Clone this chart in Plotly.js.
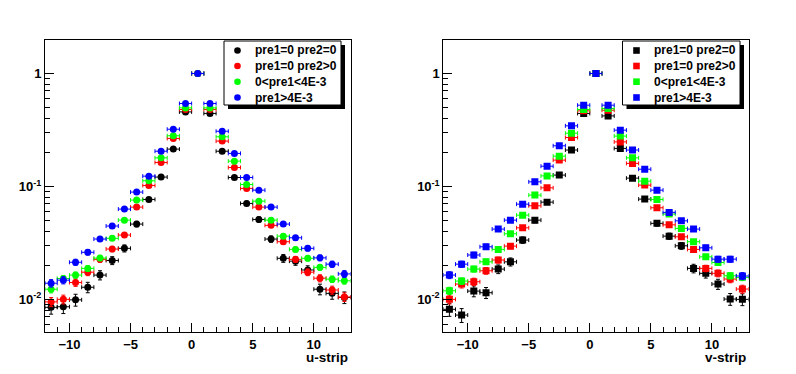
<!DOCTYPE html>
<html>
<head>
<meta charset="utf-8">
<script src="https://cdn.plot.ly/plotly-3.0.1.min.js"></script>
<style>
html,body{margin:0;padding:0;background:#fff;}
#chart{width:796px;height:374px;}
</style>
</head>
<body>
<div id="chart"></div>
<script>
// bin centres (strip number)
const strips = [-11.5,-10.5,-9.5,-8.5,-7.5,-6.5,-5.5,-4.5,-3.5,-2.5,-1.5,-0.5,0.5,1.5,2.5,3.5,4.5,5.5,6.5,7.5,8.5,9.5,10.5,11.5,12.5];

const seriesNames = ["pre1=0 pre2=0","pre1=0 pre2>0","0<pre1<4E-3","pre1>4E-3"];
const seriesColors = ["#000000","#ff0000","#00ff00","#0000ff"];

// u-strip panel
const uBlack = [0.0085,0.0086,0.0099,0.0128,0.0164,0.0221,0.0283,0.0464,0.0767,0.121,0.214,0.457,1.0,0.443,0.205,0.120,0.0707,0.0510,0.0342,0.0231,0.0218,0.0182,0.0123,0.0113,0.0104];
const uRed   = [0.0095,0.0100,0.0141,0.0174,0.0226,0.0279,0.0371,0.0656,0.1020,0.163,0.266,0.480,1.0,0.480,0.252,0.147,0.0960,0.0656,0.0452,0.0324,0.0226,0.0174,0.0154,0.0121,0.0105];
const uGreen = [0.0123,0.0153,0.0164,0.0188,0.0232,0.0347,0.0503,0.0757,0.1122,0.179,0.281,0.496,1.0,0.496,0.275,0.1675,0.104,0.0741,0.0503,0.0363,0.0277,0.0231,0.0192,0.0151,0.0146];
const uBlue  = [0.0139,0.0148,0.0213,0.0261,0.0342,0.0446,0.0630,0.0891,0.1233,0.205,0.321,0.542,1.0,0.542,0.308,0.196,0.120,0.0927,0.0656,0.0464,0.0351,0.0283,0.0233,0.0205,0.0168];

// v-strip panel
const vBlack = [0.00816,0.00726,0.01184,0.01145,0.01854,0.0215,0.0335,0.0503,0.0726,0.126,0.210,0.443,1.0,0.421,0.217,0.1184,0.0772,0.0471,0.0363,0.0298,0.0188,0.0170,0.01366,0.01006,0.0100];
const vRed   = [0.0100,0.01366,0.01432,0.0179,0.0223,0.0296,0.0430,0.0674,0.0972,0.171,0.271,0.467,1.0,0.473,0.248,0.160,0.1027,0.0647,0.0457,0.0358,0.0277,0.0188,0.0170,0.01513,0.01234];
const vGreen = [0.01191,0.01452,0.01854,0.0215,0.0277,0.0381,0.0557,0.0838,0.124,0.1854,0.296,0.480,1.0,0.490,0.279,0.179,0.1114,0.0767,0.0569,0.0425,0.0324,0.0238,0.0212,0.01618,0.01566];
const vBlue  = [0.01641,0.0205,0.0247,0.0292,0.0419,0.0503,0.0697,0.1098,0.151,0.229,0.344,0.524,1.0,0.524,0.315,0.210,0.142,0.0927,0.0589,0.0496,0.0419,0.0286,0.0227,0.0227,0.0161];

// statistical error scale per series (err = k*sqrt(value))
const errScale = [0.012,0.009,0.008,0.009];

const xTickVals = [-10,-5,0,5,10];
const yTickVals = [0.01,0.1,1];
const yTickText = ["10<sup>-2</sup>","10<sup>-1</sup>","1"];

const W = 796, H = 374;
const px = v => v / W;
const py = v => 1 - v / H;

function makeTraces(seriesList, xa, ya, symbol) {
  return seriesList.map((vals, i) => ({
    type: "scatter", mode: "markers",
    x: strips, y: vals, xaxis: xa, yaxis: ya,
    name: seriesNames[i], showlegend: false,
    marker: {color: seriesColors[i], size: 7, symbol: symbol, line: {width: 0}},
    error_x: {type: "constant", value: 0.5, color: seriesColors[i], thickness: 1, width: 2},
    error_y: {type: "data", array: vals.map(v => errScale[i] * Math.sqrt(v)), color: seriesColors[i], thickness: 1, width: 2},
    hoverinfo: "x+y+name"
  }));
}

const traces = [
  ...makeTraces([uBlack,uRed,uGreen,uBlue], "x", "y", "circle"),
  ...makeTraces([vBlack,vRed,vGreen,vBlue], "x2", "y2", "square")
];

const minorX = [];
for (let i = -12; i <= 13; i++) if (i % 5 !== 0) minorX.push(i);
const minorY = [];
[0.001,0.01,0.1,1].forEach(d => { for (let k = 2; k <= 9; k++) minorY.push(d*k); });

const tickFont = {family: "Liberation Sans, Arial, sans-serif", size: 13, color: "#000", weight: "bold"};

function xAxis(dom, anchor) {
  return {
    domain: dom, anchor: anchor, range: [-12, 13],
    showline: true, linecolor: "#000", linewidth: 1, mirror: true,
    showgrid: false, zeroline: false,
    ticks: "inside", ticklen: 9, tickwidth: 1, tickcolor: "#000",
    tickmode: "array", tickvals: xTickVals,
    tickfont: tickFont,
    minor: {tickmode: "array", tickvals: minorX, ticks: "inside", ticklen: 5, tickwidth: 1, tickcolor: "#000", showgrid: false}
  };
}
function yAxis(anchor) {
  return {
    domain: [py(332), py(39.5)], anchor: anchor, type: "log",
    range: [-2.289, 0.301],
    showline: true, linecolor: "#000", linewidth: 1, mirror: true,
    showgrid: false, zeroline: false,
    ticks: "inside", ticklen: 9, tickwidth: 1, tickcolor: "#000",
    tickmode: "array", tickvals: yTickVals, ticktext: yTickText,
    tickfont: tickFont,
    minor: {tickmode: "array", tickvals: minorY, ticks: "inside", ticklen: 5, tickwidth: 1, tickcolor: "#000", showgrid: false}
  };
}

// legend boxes (drawn manually to match ROOT style)
const shapes = [];
const annotations = [];
function addLegend(left, right, top, bottom, markerX, textX, symbol) {
  shapes.push({type: "rect", xref: "paper", yref: "paper",
    x0: px(left + 4), x1: px(right + 4), y0: py(bottom + 4), y1: py(top + 4),
    fillcolor: "#000", line: {width: 0}});
  shapes.push({type: "rect", xref: "paper", yref: "paper",
    x0: px(left), x1: px(right), y0: py(bottom), y1: py(top),
    fillcolor: "#fff", line: {color: "#000", width: 1}});
  const rows = [50.5, 66, 81.7, 97.5];
  rows.forEach((ry, i) => {
    const r = 3.3;
    shapes.push({type: symbol === "circle" ? "circle" : "rect", xref: "paper", yref: "paper",
      x0: px(markerX - r), x1: px(markerX + r), y0: py(ry + r), y1: py(ry - r),
      fillcolor: seriesColors[i], line: {width: 0}});
    annotations.push({xref: "paper", yref: "paper", x: px(textX), y: py(ry),
      xanchor: "left", yanchor: "middle", showarrow: false, text: seriesNames[i].replace(/</g,"&lt;").replace(/>/g,"&gt;"),
      font: {family: "Liberation Sans, Arial, sans-serif", size: 12, color: "#000", weight: "bold"}});
  });
}
addLegend(224, 341, 41, 105, 237.5, 253, "circle");
addLegend(622.5, 740, 41, 105, 636.5, 651.5, "square");

annotations.push({xref: "paper", yref: "paper", x: px(349.5), y: py(357), xanchor: "right", yanchor: "middle",
  showarrow: false, text: "u-strip", font: {family: "Liberation Sans, Arial, sans-serif", size: 13.5, color: "#000", weight: "bold"}});
annotations.push({xref: "paper", yref: "paper", x: px(748), y: py(357), xanchor: "right", yanchor: "middle",
  showarrow: false, text: "v-strip", font: {family: "Liberation Sans, Arial, sans-serif", size: 13.5, color: "#000", weight: "bold"}});

const layout = {
  width: W, height: H,
  margin: {l: 0, r: 0, t: 0, b: 0},
  paper_bgcolor: "#fff", plot_bgcolor: "#fff",
  showlegend: false,
  xaxis: xAxis([px(45), px(350.5)], "y"),
  yaxis: yAxis("x"),
  xaxis2: xAxis([px(443.3), px(748.5)], "y2"),
  yaxis2: yAxis("x2"),
  shapes: shapes,
  annotations: annotations
};

Plotly.newPlot("chart", traces, layout, {displayModeBar: false, staticPlot: true});
</script>
</body>
</html>
